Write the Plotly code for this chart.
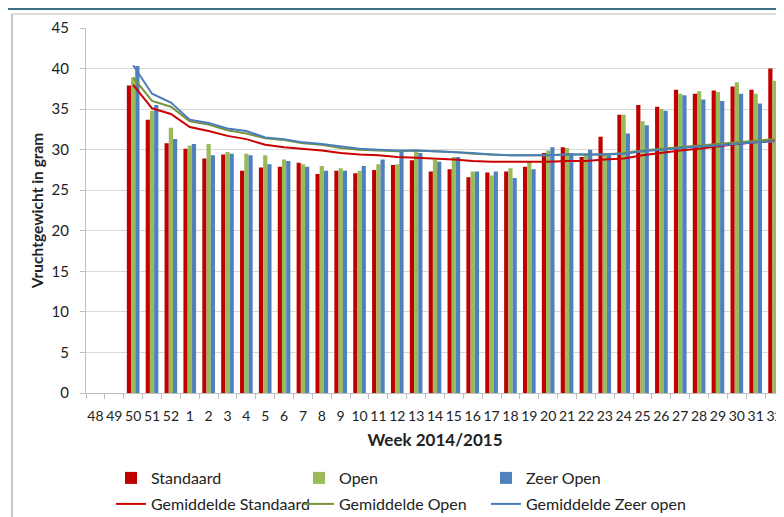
import plotly.graph_objects as go

weeks = ["48", "49", "50", "51", "52"] + [str(w) for w in range(1, 33)]

# bar values per week (None = no data)
standaard = [None, None, 37.9, 33.7, 30.8, 30.1, 28.9, 29.4, 27.4, 27.8, 27.9, 28.4,
             27.0, 27.4, 27.1, 27.5, 28.1, 28.7, 27.3, 27.6, 26.6, 27.2, 27.3, 27.9,
             29.6, 30.3, 29.1, 31.6, 34.3, 35.5, 35.3, 37.4, 36.9, 37.3, 37.8, 37.4, 40.0]
open_ = [None, None, 38.9, 34.8, 32.7, 30.5, 30.7, 29.7, 29.5, 29.3, 28.8, 28.2,
         28.0, 27.7, 27.4, 28.2, 28.2, 30.0, 28.8, 29.1, 27.3, 26.8, 27.7, 28.6,
         29.9, 30.2, 29.5, 29.6, 34.3, 33.5, 35.0, 36.9, 37.2, 37.1, 38.3, 36.9, 38.5]
zeer_open = [None, None, 40.3, 35.5, 31.3, 30.7, 29.3, 29.5, 29.3, 28.2, 28.6, 27.9,
             27.4, 27.4, 28.0, 28.8, 29.8, 29.6, 28.5, 29.1, 27.3, 27.3, 26.5, 27.6,
             30.3, 29.6, 30.0, 29.3, 32.0, 33.0, 34.8, 36.7, 36.2, 36.0, 36.9, 35.7, 36.7]

# running averages
gem_standaard = [None, None, 38.0, 35.1, 34.4, 32.8, 32.3, 31.7, 31.3, 30.6, 30.3, 30.1,
                 29.9, 29.6, 29.4, 29.3, 29.1, 29.0, 28.9, 28.8, 28.6, 28.5, 28.5, 28.5,
                 28.5, 28.6, 28.6, 28.8, 28.9, 29.3, 29.6, 29.9, 30.1, 30.4, 30.7, 30.9, 31.1]
gem_open = [None, None, 38.9, 36.0, 35.3, 33.5, 33.1, 32.4, 32.0, 31.4, 31.2, 30.8,
            30.6, 30.2, 30.0, 29.9, 29.8, 29.9, 29.8, 29.7, 29.5, 29.4, 29.3, 29.3,
            29.3, 29.4, 29.4, 29.4, 29.6, 29.9, 30.1, 30.3, 30.5, 30.7, 30.9, 31.1, 31.3]
gem_zeer_open = [None, None, 40.4, 36.9, 35.8, 33.7, 33.3, 32.6, 32.3, 31.5, 31.3, 30.9,
                 30.7, 30.4, 30.1, 30.0, 29.9, 29.9, 29.8, 29.7, 29.6, 29.4, 29.3, 29.3,
                 29.3, 29.4, 29.4, 29.4, 29.5, 29.8, 30.0, 30.2, 30.4, 30.5, 30.7, 30.9, 31.0]

RED, GREEN, BLUE = "#c00000", "#9bbb59", "#4f81bd"
FONT = "Lato, Open Sans, sans-serif"


# page pixel helpers (plot area on page: x 86..784, y 28..393;
# the page body adds an 8px offset, so the figure itself is 776x509)
def px(x):
    return (x - 86) / 698


def py(y):
    return (393 - y) / 365


fig = go.Figure()

bar_series = [("Standaard", standaard, RED, "legend"),
              ("Open", open_, GREEN, "legend2"),
              ("Zeer Open", zeer_open, BLUE, "legend3")]
for name, vals, col, leg in bar_series:
    fig.add_trace(go.Bar(x=weeks, y=vals, name=name, legend=leg, showlegend=True,
                         marker=dict(color=col, line=dict(width=0))))

line_series = [("Gemiddelde Standaard", gem_standaard, "#cc0000", "legend4"),
               ("Gemiddelde Open", gem_open, "#77933c", "legend5"),
               ("Gemiddelde Zeer open", gem_zeer_open, "#4a7ebb", "legend6")]
for name, vals, col, leg in line_series:
    fig.add_trace(go.Scatter(x=weeks, y=vals, name=name, mode="lines", legend=leg,
                             showlegend=True, line=dict(color=col, width=2)))

# legend placement: text starts at 152 / 340 / 527 px, rows at 478 / 504 px
col_x = [111, 299, 486]
row_y = [478, 504]
legends = {}
for i, key in enumerate(["legend", "legend2", "legend3", "legend4", "legend5", "legend6"]):
    legends[key] = dict(
        x=px(col_x[i % 3]), y=py(row_y[i // 3]), xanchor="left", yanchor="middle",
        orientation="h", font=dict(size=16, color="#222222"), itemwidth=30,
        bgcolor="rgba(0,0,0,0)",
    )

fig.update_layout(
    width=776,
    height=509,
    margin=dict(l=78, r=0, t=20, b=124, autoexpand=False),
    showlegend=True,
    paper_bgcolor="white",
    plot_bgcolor="white",
    font=dict(family=FONT, color="#222222", size=15),
    barmode="group",
    bargap=0.33,
    bargroupgap=0,
    xaxis=dict(
        type="category",
        range=[-0.5, 36.5],
        automargin=False,
        showgrid=False,
        showline=True,
        linecolor="#bfbfbf",
        ticks="outside",
        tickson="boundaries",
        ticklen=5,
        tickcolor="#bfbfbf",
        tickangle=0,
        ticklabelstandoff=10,
        tickfont=dict(size=14),
        title=dict(text="<b>Week 2014/2015</b>", font=dict(size=17), standoff=11),
    ),
    yaxis=dict(
        range=[0, 45],
        dtick=5,
        automargin=False,
        showgrid=True,
        gridcolor="#d9d9d9",
        showline=True,
        linecolor="#bfbfbf",
        ticks="outside",
        ticklen=5,
        tickcolor="#bfbfbf",
        ticklabelstandoff=8,
        tickfont=dict(size=15),
        zeroline=False,
        title=dict(text="<b>Vruchtgewicht in gram</b>", font=dict(size=15.5), standoff=4),
    ),
    shapes=[
        dict(type="line", xref="paper", yref="paper", x0=px(0), x1=px(784), y0=py(9), y1=py(9),
             line=dict(color="#3c6e84", width=2)),
        dict(type="line", xref="paper", yref="paper", x0=px(12), x1=px(784), y0=py(14), y1=py(14),
             line=dict(color="#d0d0d0", width=1.5)),
        dict(type="line", xref="paper", yref="paper", x0=px(12), x1=px(12), y0=py(14), y1=py(520),
             line=dict(color="#c8c8c8", width=2)),
    ],
    **legends,
)

fig.write_html("out.html")
